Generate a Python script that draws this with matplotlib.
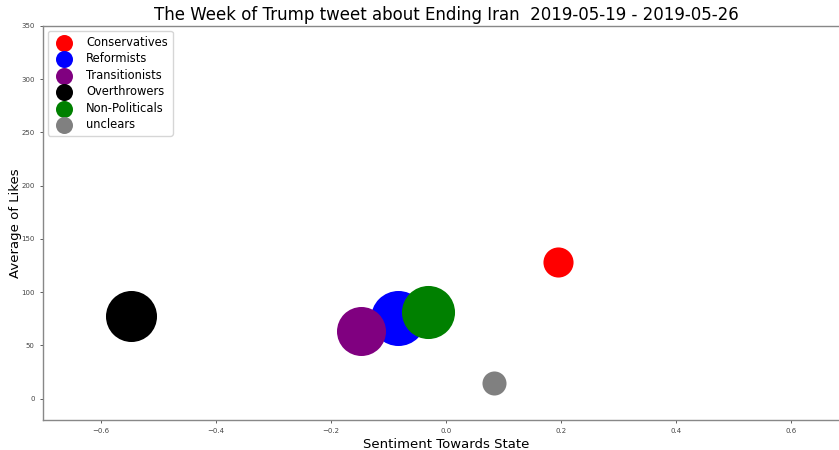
import matplotlib
matplotlib.use('Agg')
import matplotlib.pyplot as plt

# groups, sentiment (x), average likes (y), bubble size (tweet count-ish)
groups = ['Conservatives', 'Reformists', 'Transitionists', 'Overthrowers', 'Non-Politicals', 'unclears']
colors = ['red', 'blue', 'purple', 'black', 'green', 'gray']
sentiment = [0.194, -0.083, -0.147, -0.548, -0.031, 0.084]
avg_likes = [128, 76, 64, 77.5, 81, 14.7]
sizes = [470, 1570, 1245, 1350, 1460, 300]

fig = plt.figure(figsize=(8.39, 4.5), dpi=100)
ax = fig.add_axes([43/839, 30/450, 806/839, 394/450])

for g, c, x, y, s in zip(groups, colors, sentiment, avg_likes, sizes):
    ax.scatter(x, y, s=s, c=c, label=g, linewidths=0)

ax.set_xlim(-0.7, 0.7)
ax.set_ylim(-20, 350)
ax.tick_params(labelsize=5, length=2.5, width=0.6, colors='#444444')
for side in ['left', 'bottom', 'top']:
    ax.spines[side].set_color('#888888')
    ax.spines[side].set_linewidth(1.0)
ax.spines['right'].set_visible(False)

ax.set_xlabel('Sentiment Towards State', fontsize=9.5, labelpad=3)
ax.set_ylabel('Average of Likes', fontsize=9.5)
ax.yaxis.set_label_coords(-0.026, 0.5)
ax.set_title('The Week of Trump tweet about Ending Iran  2019-05-19 - 2019-05-26',
             fontsize=12, pad=4)

leg = ax.legend(loc='upper left', fontsize=8.3, borderaxespad=0.45, handletextpad=0.9,
                labelspacing=0.3, borderpad=0.4)
for h in leg.legend_handles:
    h.set_sizes([150])

fig.savefig('out.png', dpi=100)
